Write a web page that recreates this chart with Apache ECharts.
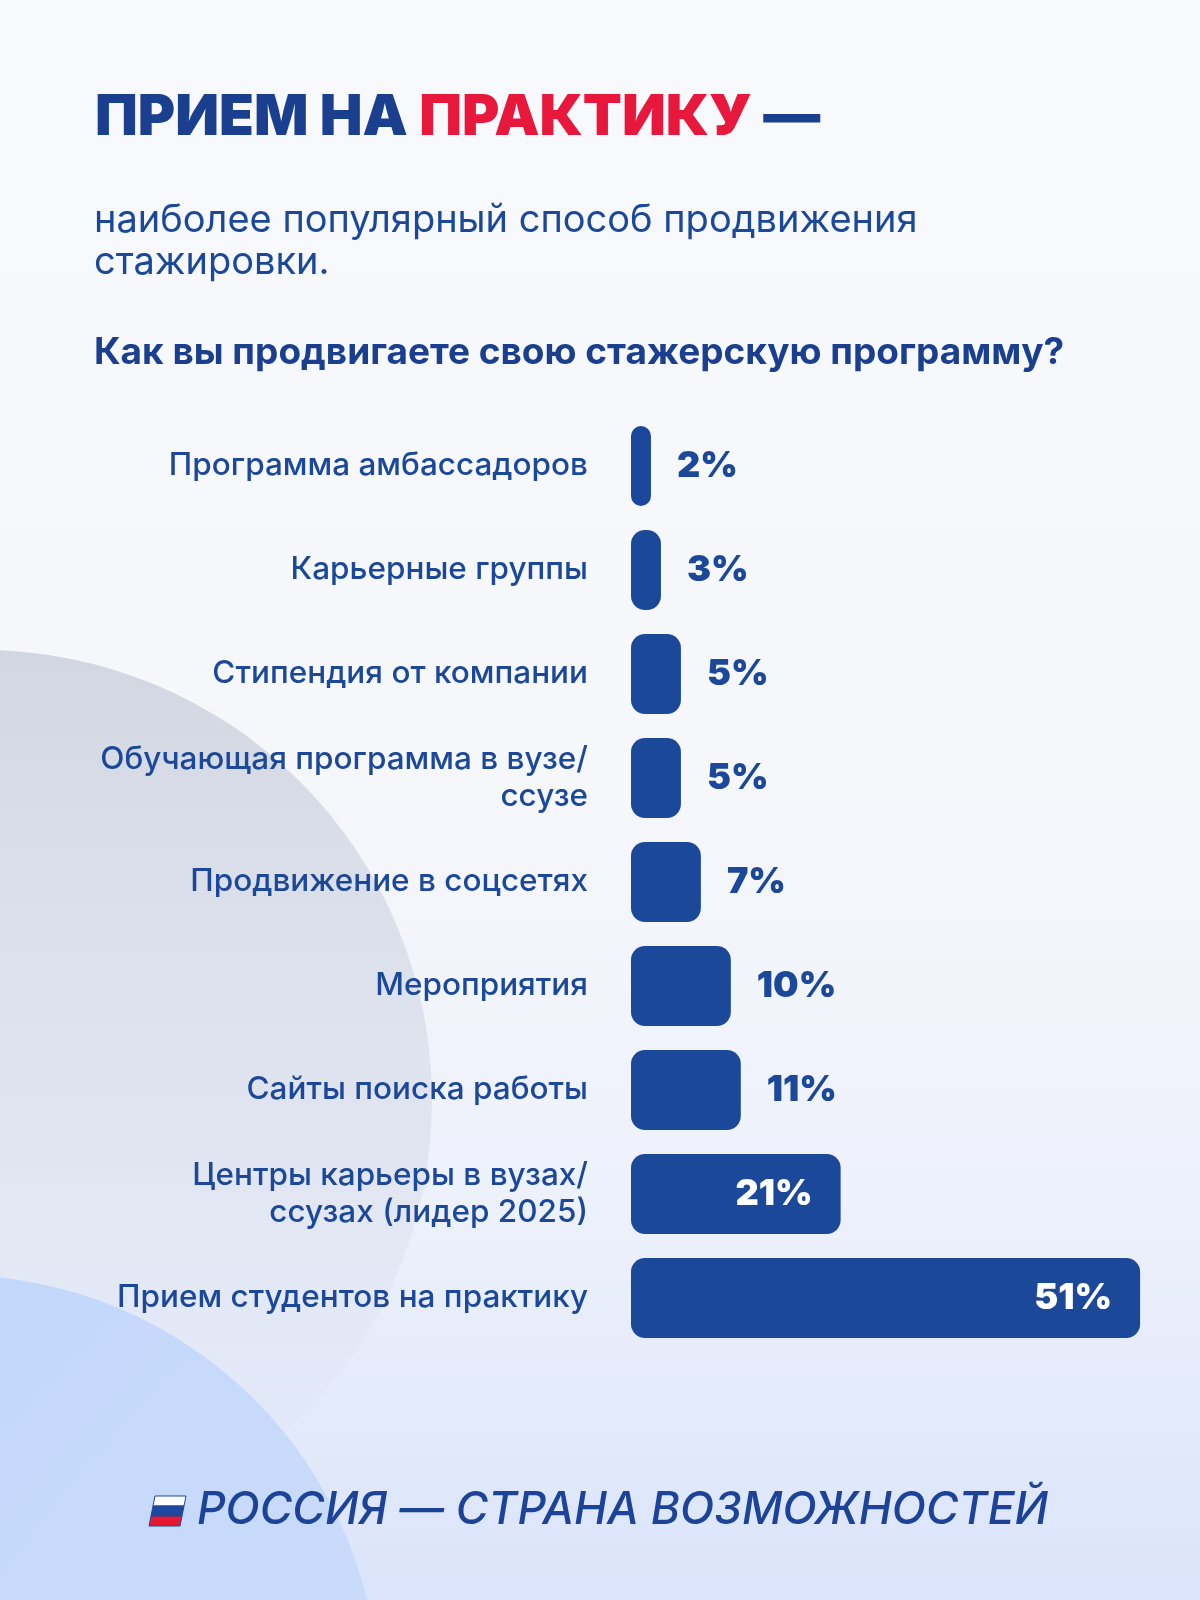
<!DOCTYPE html>
<html>
<head>
<meta charset="utf-8">
<script src="https://cdn.jsdelivr.net/npm/echarts@6/dist/echarts.min.js"></script>
<style>
html,body{margin:0;padding:0;background:#f8f9fb;}
#chart{width:1200px;height:1600px;}
</style>
</head>
<body>
<div id="chart"></div>
<script>
// ---- data ----
const categories = [
  'Программа амбассадоров',
  'Карьерные группы',
  'Стипендия от компании',
  'Обучающая программа в вузе/\nссузе',
  'Продвижение в соцсетях',
  'Мероприятия',
  'Сайты поиска работы',
  'Центры карьеры в вузах/\nссузах (лидер 2025)',
  'Прием студентов на практику'
];
const values = [2, 3, 5, 5, 7, 10, 11, 21, 51];

const titleBlue = 'ПРИЕМ НА ';
const titleRed = 'ПРАКТИКУ';
const titleTail = ' —';
const subtitleLines = ['наиболее популярный способ продвижения', 'стажировки.'];
const question = 'Как вы продвигаете свою стажерскую программу?';
const footer = 'РОССИЯ — СТРАНА ВОЗМОЖНОСТЕЙ';

// ---- styles ----
const BLUE = '#1b4899';
const DARK = '#1a3f8e';
const RED = '#e8173c';
const FONT = 'Inter, "Noto Sans", sans-serif';

const chart = echarts.init(document.getElementById('chart'), null, {renderer: 'canvas'});

const seriesData = values.map(v => ({
  value: v,
  label: v >= 20
    ? {position: 'insideRight', distance: 28, color: '#ffffff'}
    : {position: 'right', distance: 26, color: BLUE}
}));

chart.setOption({
  backgroundColor: {
    type: 'linear', x: 0, y: 0, x2: 0, y2: 1,
    colorStops: [
      {offset: 0, color: '#f8f9fb'},
      {offset: 0.5, color: '#f6f7fb'},
      {offset: 0.75, color: '#edf1fb'},
      {offset: 1, color: '#dae4fa'}
    ]
  },
  animation: false,
  graphic: {
    elements: [
      {
        type: 'circle', z: -10, silent: true,
        shape: {cx: -18, cy: 1100, r: 450},
        style: {
          fill: {
            type: 'linear', x: 0, y: 0, x2: 0, y2: 1, global: false,
            colorStops: [
              {offset: 0, color: 'rgba(200,206,218,0.8)'},
              {offset: 0.55, color: 'rgba(212,218,232,0.55)'},
              {offset: 1, color: 'rgba(225,231,245,0.05)'}
            ]
          }
        }
      },
      {
        type: 'circle', z: -9, silent: true,
        shape: {cx: -46, cy: 1700, r: 425},
        style: {
          fill: {
            type: 'linear', x: 0, y: 0, x2: 1, y2: 1, global: false,
            colorStops: [
              {offset: 0, color: 'rgba(190,213,252,1)'},
              {offset: 1, color: 'rgba(205,221,250,0.9)'}
            ]
          }
        }
      },
      {
        type: 'text', x: 95, y: 118, silent: true,
        style: {
          text: '{b|' + titleBlue + '}{r|' + titleRed + '}{b|' + titleTail + '}',
          verticalAlign: 'middle',
          rich: {
            b: {fontFamily: FONT, fontSize: 57, fontWeight: 900, fill: DARK},
            r: {fontFamily: FONT, fontSize: 57, fontWeight: 900, fill: RED}
          }
        }
      },
      {
        type: 'text', x: 94, y: 221, silent: true,
        style: {text: subtitleLines[0], fontFamily: FONT, fontSize: 38, fontWeight: 400, fill: BLUE, verticalAlign: 'middle'}
      },
      {
        type: 'text', x: 94, y: 263, silent: true,
        style: {text: subtitleLines[1], fontFamily: FONT, fontSize: 38, fontWeight: 400, fill: BLUE, verticalAlign: 'middle'}
      },
      {
        type: 'text', x: 94, y: 353, silent: true,
        style: {text: question, fontFamily: FONT, fontSize: 37, fontWeight: 700, fill: DARK, verticalAlign: 'middle'}
      },
      // flag
      {
        type: 'polygon', silent: true,
        shape: {points: [[155, 1496], [186, 1496], [184, 1506], [153, 1506]]},
        style: {fill: '#ffffff', stroke: BLUE, lineWidth: 1}
      },
      {
        type: 'polygon', silent: true,
        shape: {points: [[153, 1506], [184, 1506], [182, 1516], [151, 1516]]},
        style: {fill: '#1e48a0', stroke: BLUE, lineWidth: 1}
      },
      {
        type: 'polygon', silent: true,
        shape: {points: [[151, 1516], [182, 1516], [180, 1526], [149, 1526]]},
        style: {fill: '#e5182f', stroke: BLUE, lineWidth: 1}
      },
      {
        type: 'text', x: 197, y: 1511, silent: true,
        style: {text: footer, fontFamily: FONT, fontSize: 44.5, fontWeight: 500, fontStyle: 'italic', fill: '#1c4397', verticalAlign: 'middle'}
      }
    ]
  },
  grid: {left: 631, top: 414, width: 570, height: 936, containLabel: false},
  xAxis: {
    type: 'value', min: 0, max: 57, show: false
  },
  yAxis: {
    type: 'category', data: categories, inverse: true,
    axisLine: {show: false}, axisTick: {show: false}, splitLine: {show: false},
    axisLabel: {
      margin: 43, fontFamily: FONT, fontSize: 31.5, fontWeight: 500,
      color: BLUE, lineHeight: 37, align: 'right', padding: [4, 0, 0, 0]
    }
  },
  series: [{
    type: 'bar',
    data: seriesData,
    barWidth: 80,
    itemStyle: {color: BLUE, borderRadius: 14},
    label: {
      show: true,
      formatter: p => p.value + '%',
      fontFamily: FONT, fontSize: 36, fontWeight: 900
    }
  }]
});
</script>
</body>
</html>
